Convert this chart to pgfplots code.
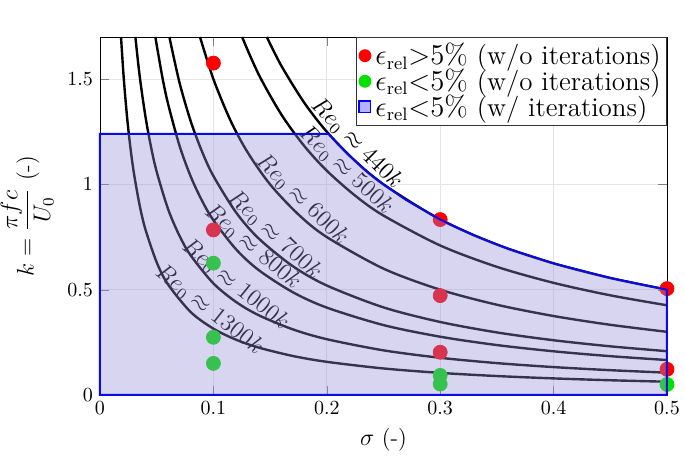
\documentclass[border=0pt]{standalone}
\usepackage{amsmath}
\usepackage{pgfplots}
\pgfplotsset{compat=1.18}

\definecolor{ptred}{RGB}{255,0,0}
\definecolor{ptgreen}{RGB}{0,225,0}
\definecolor{regfill}{RGB}{150,140,215}
\definecolor{regline}{RGB}{10,10,230}

\tikzset{
    curve/.style={black, line width=1.2pt, smooth},
    lab/.style={anchor=south, font=\fontsize{11.5}{14}\selectfont, inner sep=1.6pt},
}

\begin{document}
\begin{tikzpicture}
\begin{axis}[
    set layers=standard,
    width=283.5pt, height=179pt, scale only axis,
    xmin=0, xmax=0.5, ymin=0, ymax=1.7,
    xtick={0,0.1,...,0.5}, ytick={0,0.5,1,1.5},
    grid=major, grid style={black!10},
    clip=false,
    xlabel={$\sigma$ (-)},
    ylabel={$k=\dfrac{\pi f c}{U_0}$ (-)},
    label style={font=\fontsize{11.5}{13}\selectfont},
    legend cell align=left,
    legend style={at={(1,1)}, anchor=north east, draw=black!80,
        font=\fontsize{13.5}{14}\selectfont, row sep=-3.5pt, inner sep=1pt},
]

% legend entries
\addlegendimage{legend image code/.code={\fill[ptred] (0.1cm,0) circle (3pt);}}
\addlegendentry{$\epsilon_{\mathrm{rel}}{>}5\%$ (w/o iterations)}
\addlegendimage{legend image code/.code={\fill[ptgreen] (0.1cm,0) circle (3pt);}}
\addlegendentry{$\epsilon_{\mathrm{rel}}{<}5\%$ (w/o iterations)}
\addlegendimage{legend image code/.code={\draw[fill=blue!30, draw=blue, line width=0.8pt] (0.0cm,-0.1cm) rectangle (0.2cm,0.1cm);}}
\addlegendentry{$\epsilon_{\mathrm{rel}}{<}5\%$ (w/ iterations)}

% iso-Reynolds curves
\addplot[curve, forget plot] coordinates {(0.1471,1.7)(0.16,1.5625)(0.18,1.3889)(0.2,1.25)(0.225,1.1111)(0.25,1.0)(0.3,0.8333)(0.35,0.7143)(0.4,0.625)(0.45,0.5556)(0.5,0.5)};
\addplot[curve, forget plot] coordinates {(0.1253,1.7)(0.14,1.5214)(0.16,1.3313)(0.18,1.1833)(0.2,1.065)(0.225,0.9467)(0.25,0.852)(0.3,0.71)(0.35,0.6086)(0.4,0.5325)(0.45,0.4733)(0.5,0.426)};
\addplot[curve, forget plot] coordinates {(0.0882,1.7)(0.1,1.5)(0.115,1.3043)(0.13,1.1538)(0.15,1.0)(0.175,0.8571)(0.2,0.75)(0.25,0.6)(0.3,0.5)(0.35,0.4286)(0.4,0.375)(0.45,0.3333)(0.5,0.3)};
\addplot[curve, forget plot] coordinates {(0.0612,1.7)(0.07,1.4857)(0.08,1.3)(0.09,1.1556)(0.1,1.04)(0.12,0.8667)(0.14,0.7429)(0.17,0.6118)(0.2,0.52)(0.25,0.416)(0.3,0.3467)(0.35,0.2971)(0.4,0.26)(0.45,0.2311)(0.5,0.208)};
\addplot[curve, forget plot] coordinates {(0.0488,1.7)(0.055,1.5091)(0.06,1.3833)(0.07,1.1857)(0.08,1.0375)(0.09,0.9222)(0.1,0.83)(0.12,0.6917)(0.14,0.5929)(0.17,0.4882)(0.2,0.415)(0.25,0.332)(0.3,0.2767)(0.35,0.2371)(0.4,0.2075)(0.45,0.1844)(0.5,0.166)};
\addplot[curve, forget plot] coordinates {(0.0312,1.7)(0.035,1.5143)(0.04,1.325)(0.045,1.1778)(0.05,1.06)(0.06,0.8833)(0.07,0.7571)(0.08,0.6625)(0.1,0.53)(0.12,0.4417)(0.14,0.3786)(0.17,0.3118)(0.2,0.265)(0.25,0.212)(0.3,0.1767)(0.35,0.1514)(0.4,0.1325)(0.45,0.1178)(0.5,0.106)};
\addplot[curve, forget plot] coordinates {(0.01853,1.7)(0.021,1.5)(0.024,1.3125)(0.027,1.1667)(0.03,1.05)(0.035,0.9)(0.04,0.7875)(0.05,0.63)(0.06,0.525)(0.08,0.3938)(0.1,0.315)(0.12,0.2625)(0.14,0.225)(0.17,0.1853)(0.2,0.1575)(0.25,0.126)(0.3,0.105)(0.35,0.09)(0.4,0.0788)(0.45,0.07)(0.5,0.063)};

% curve labels
\node[lab, rotate=-44.8] at (axis cs:0.218,1.147) {$Re_0 \approx 440k$};
\node[lab, rotate=-42.6] at (axis cs:0.209,1.019) {$Re_0 \approx 500k$};
\node[lab, rotate=-44.2] at (axis cs:0.170,0.882) {$Re_0 \approx 600k$};
\node[lab, rotate=-42.5] at (axis cs:0.146,0.712) {$Re_0 \approx 700k$};
\node[lab, rotate=-40.5] at (axis cs:0.127,0.654) {$Re_0 \approx 800k$};
\node[lab, rotate=-39.0] at (axis cs:0.112,0.473) {$Re_0 \approx 1000k$};
\node[lab, rotate=-38.5] at (axis cs:0.089,0.354) {$Re_0 \approx 1300k$};

% test points
\addplot[only marks, mark=*, mark size=3.5pt, color=ptred, forget plot] coordinates {
    (0.1,1.576) (0.1,0.784) (0.3,0.833) (0.3,0.472) (0.3,0.203) (0.5,0.505) (0.5,0.122)};
\addplot[only marks, mark=*, mark size=3.5pt, color=ptgreen, forget plot] coordinates {
    (0.1,0.626) (0.1,0.274) (0.1,0.150) (0.3,0.093) (0.3,0.052) (0.5,0.050)};

% region with iterations, drawn over the points and curves
\addplot[on layer=axis foreground, fill=regfill, fill opacity=0.37, draw=none, forget plot] coordinates {
    (0,0)(0,1.24)(0.2016,1.24)(0.21,1.1905)(0.22,1.1364)(0.235,1.0638)(0.25,1.0)(0.27,0.9259)(0.3,0.8333)(0.33,0.7576)(0.36,0.6944)(0.4,0.625)(0.45,0.5556)(0.5,0.5)(0.5,0)} -- cycle;
\addplot[on layer=axis foreground, regline, line width=1pt, forget plot] coordinates {
    (0,0)(0,1.24)(0.2016,1.24)(0.21,1.1905)(0.22,1.1364)(0.235,1.0638)(0.25,1.0)(0.27,0.9259)(0.3,0.8333)(0.33,0.7576)(0.36,0.6944)(0.4,0.625)(0.45,0.5556)(0.5,0.5)(0.5,0)} -- cycle;
\end{axis}
\pgfresetboundingbox
\path[use as bounding box] (-50pt,-37.5pt) rectangle (292.5pt,197.5pt);
\end{tikzpicture}
\end{document}
